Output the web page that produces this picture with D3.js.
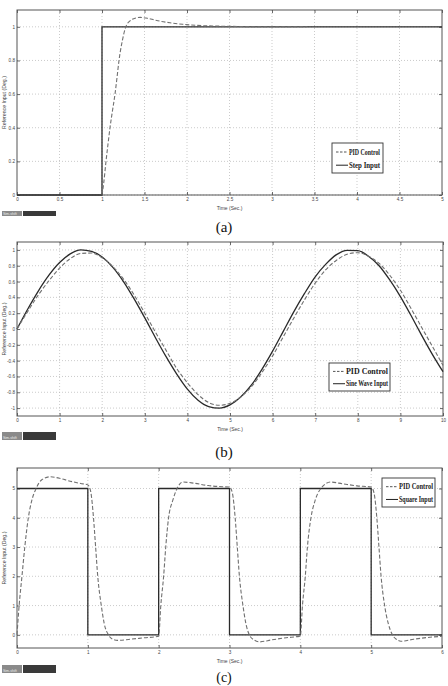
<!DOCTYPE html>
<html><head><meta charset="utf-8">
<script src="https://cdn.jsdelivr.net/npm/d3@7"></script>
<style>html,body{margin:0;padding:0;background:#fff}svg{display:block}</style>
</head><body>
<script>
// ---------- DATA ----------
// Panel (a) step response
const stepXTicks = [0,0.5,1,1.5,2,2.5,3,3.5,4,4.5,5];
const stepYTicks = [0,0.2,0.4,0.6,0.8,1];
const stepInputT = [0,1,5];
const stepInputV = [0,1,1];
const stepPidT = [1.0,1.02,1.047,1.07,1.094,1.123,1.153,1.177,1.2,1.24,1.28,1.33,1.38,1.45,1.52,1.6,1.7,1.8,1.95,2.1,2.3,2.6,3.0,3.41];
const stepPidV = [0,0.07,0.2,0.3,0.4,0.5,0.6,0.7,0.8,0.92,1.0,1.035,1.05,1.056,1.052,1.043,1.032,1.024,1.015,1.009,1.005,1.002,1.0,1.0];
const stepLegend = ["PID Control","Step Input"];

// Panel (b) sine response
const sineXTicks = [0,1,2,3,4,5,6,7,8,9,10];
const sineYTicks = [1,0.8,0.6,0.4,0.2,0,-0.2,-0.4,-0.6,-0.8,-1];
const sineT = [0,0.25,0.5,0.75,1,1.25,1.5,1.75,2,2.25,2.5,2.75,3,3.25,3.5,3.75,4,4.25,4.5,4.75,5,5.25,5.5,5.75,6,6.25,6.5,6.75,7,7.25,7.5,7.75,8,8.25,8.5,8.75,9,9.25,9.5,9.75,10];
const sineInputV = [0,0.25,0.48,0.68,0.84,0.95,1.0,0.98,0.91,0.78,0.6,0.38,0.14,-0.11,-0.35,-0.57,-0.76,-0.9,-0.98,-1.0,-0.96,-0.86,-0.71,-0.51,-0.28,-0.03,0.22,0.45,0.66,0.82,0.94,0.995,0.99,0.92,0.8,0.62,0.41,0.17,-0.08,-0.32,-0.54];
const sinePidV = [0,0.22,0.43,0.61,0.77,0.89,0.955,0.96,0.9,0.79,0.63,0.43,0.2,-0.04,-0.27,-0.5,-0.68,-0.83,-0.93,-0.965,-0.94,-0.86,-0.73,-0.55,-0.34,-0.1,0.14,0.37,0.58,0.75,0.87,0.945,0.965,0.92,0.83,0.68,0.49,0.26,0.02,-0.22,-0.46];
const sineLegend = ["PID Control","Sine Wave Input"];

// Panel (c) square response
const sqXTicks = [0,1,2,3,4,5,6];
const sqYTicks = [0,1,2,3,4,5];
const sqInputT = [0,1,2,3,4,5,6];
const sqInputV = [5,0,5,0,5,0,0];
const sqPidT = [0,0.03,0.07,0.11,0.16,0.21,0.27,0.35,0.47,0.6,0.75,0.9,1.0,
  1.04,1.08,1.11,1.14,1.19,1.23,1.29,1.35,1.42,1.6,1.8,2.0,
  2.03,2.07,2.1,2.14,2.2,2.26,2.34,2.5,2.7,2.9,3.0,
  3.04,3.08,3.11,3.14,3.19,3.23,3.28,3.35,3.42,3.6,3.8,4.0,
  4.03,4.07,4.1,4.15,4.21,4.29,4.43,4.6,4.8,5.0,
  5.04,5.08,5.11,5.14,5.19,5.24,5.3,5.36,5.42,5.6,5.8,6.0];
const sqPidV = [0,1,2,3,4,4.6,5.0,5.3,5.4,5.35,5.25,5.17,5.12,
  4.9,4.0,3.0,2.0,1.0,0.4,0,-0.15,-0.19,-0.15,-0.1,-0.05,
  1.0,2.0,3.0,4.0,4.6,5.0,5.22,5.18,5.1,5.06,5.05,
  4.85,4.0,3.0,2.0,1.0,0.4,0,-0.18,-0.24,-0.17,-0.1,-0.04,
  1.0,2.0,3.0,4.0,4.6,5.0,5.22,5.16,5.09,5.05,
  4.85,4.0,3.0,2.0,1.0,0.4,0,-0.16,-0.22,-0.15,-0.09,-0.05];
const sqLegend = ["PID Control","Square Input"];

const xTitle = "Time (Sec.)";
const yTitle = "Reference Input (Deg.)";
const captions = ["(a)","(b)","(c)"];

// ---------- DRAW ----------
const W = 448, H = 686;
const svg = d3.select("body").append("svg").attr("width", W).attr("height", H);
svg.append("rect").attr("width", W).attr("height", H).attr("fill", "#fff");

const fmt = v => (Math.round(v*10)/10).toString();
const SANS = "Liberation Sans, Arial, sans-serif";

function drawPanel(p) {
  const x = d3.scaleLinear().domain(p.xDom).range([p.left, p.right]);
  const y = d3.scaleLinear().domain(p.yDom).range([p.bottom, p.top]);
  const g = svg.append("g");

  // grid
  g.selectAll(".gx").data(p.xTicks.slice(1, -1)).enter().append("line")
    .attr("x1", d => x(d)).attr("x2", d => x(d)).attr("y1", p.top).attr("y2", p.bottom)
    .attr("stroke", "#b5b5b5").attr("stroke-width", 0.7).attr("stroke-dasharray", "1,2");
  g.selectAll(".gy").data(p.yTicks).enter().append("line")
    .attr("x1", p.left).attr("x2", p.right).attr("y1", d => y(d)).attr("y2", d => y(d))
    .attr("stroke", "#b5b5b5").attr("stroke-width", 0.7).attr("stroke-dasharray", "1,2");

  // axes via d3 axes (ticks inward)
  const ax = d3.axisBottom(x).tickValues(p.xTicks).tickSize(-3).tickPadding(3).tickFormat(fmt);
  const axG = g.append("g").attr("transform", `translate(0,${p.bottom})`).call(ax);
  const axT = d3.axisTop(x).tickValues(p.xTicks).tickSize(-3).tickFormat("");
  const axTG = g.append("g").attr("transform", `translate(0,${p.top})`).call(axT);
  const ay = d3.axisLeft(y).tickValues(p.yTicks).tickSize(-3).tickPadding(2).tickFormat(fmt);
  const ayG = g.append("g").attr("transform", `translate(${p.left},0)`).call(ay);
  const ayR = d3.axisRight(y).tickValues(p.yTicks).tickSize(-3).tickFormat("");
  const ayRG = g.append("g").attr("transform", `translate(${p.right},0)`).call(ayR);
  [axG, axTG, ayG, ayRG].forEach(a => {
    a.select(".domain").remove();
    a.selectAll(".tick line").attr("stroke", "#444").attr("stroke-width", 0.8);
    a.selectAll("text").attr("font-family", SANS).attr("font-size", 4.6).attr("fill", "#444");
  });

  // frame
  g.append("rect").attr("x", p.left).attr("y", p.top)
    .attr("width", p.right - p.left).attr("height", p.bottom - p.top)
    .attr("fill", "none").attr("stroke", "#555").attr("stroke-width", 1);

  // input (solid)
  const inLine = d3.line().x(d => x(d[0])).y(d => y(d[1])).curve(p.inCurve);
  g.append("path").datum(p.inT.map((t, i) => [t, p.inV[i]]))
    .attr("d", inLine).attr("fill", "none").attr("stroke", "#2a2a2a").attr("stroke-width", 1.3);

  // PID (dashed)
  const pidLine = d3.line().x(d => x(d[0])).y(d => y(d[1])).curve(d3.curveMonotoneX);
  g.append("path").datum(p.pidT.map((t, i) => [t, p.pidV[i]]))
    .attr("d", pidLine).attr("fill", "none").attr("stroke", "#707070")
    .attr("stroke-width", 1.1).attr("stroke-dasharray", "4,2");

  // titles
  g.append("text").attr("x", (p.left + p.right) / 2).attr("y", p.bottom + 15)
    .attr("text-anchor", "middle").attr("font-family", SANS)
    .attr("font-size", 5).attr("fill", "#444").text(xTitle);
  g.append("text").attr("transform", `translate(6,${(p.top + p.bottom) / 2}) rotate(-90)`)
    .attr("text-anchor", "middle").attr("font-family", SANS)
    .attr("font-size", 5.2).attr("fill", "#444").text(yTitle);

  // legend
  const L = p.legend;
  g.append("rect").attr("x", L.x).attr("y", L.y).attr("width", L.w).attr("height", L.h)
    .attr("fill", "#fff").attr("stroke", "#333").attr("stroke-width", 0.9);
  p.legendLabels.forEach((lab, i) => {
    const yy = L.y + L.h * (i === 0 ? 0.3 : 0.74);
    g.append("line").attr("x1", L.x + 4).attr("x2", L.x + 16).attr("y1", yy).attr("y2", yy)
      .attr("stroke", i === 0 ? "#555" : "#222").attr("stroke-width", 1)
      .attr("stroke-dasharray", i === 0 ? "2.5,1.5" : null);
    g.append("text").attr("x", L.x + 17).attr("y", yy + 2.5)
      .attr("font-family", "Liberation Serif, Times New Roman, serif")
      .attr("font-size", 7.5).attr("font-weight", "bold").attr("fill", "#222")
      .attr("textLength", L.tl).attr("lengthAdjust", "spacingAndGlyphs").text(lab);
  });

  // sim bar
  g.append("rect").attr("x", 2).attr("y", p.barY).attr("width", 20).attr("height", p.barH).attr("fill", "#8a8a8a");
  g.append("rect").attr("x", 23).attr("y", p.barY).attr("width", 33).attr("height", p.barH).attr("fill", "#3a3a3a");
  g.append("text").attr("x", 3).attr("y", p.barY + p.barH - 1.5).attr("font-family", SANS)
    .attr("font-size", 3.5).attr("fill", "#eee").text("Sim-shift");

  // caption
  g.append("text").attr("x", 224).attr("y", p.capY).attr("text-anchor", "middle")
    .attr("font-family", "Liberation Serif, Times New Roman, serif").attr("font-size", p.capSize)
    .attr("fill", "#111").text(p.caption);
}

drawPanel({
  xDom: [0, 5], yDom: [0, 1.1], left: 17, right: 442, top: 10, bottom: 195,
  xTicks: stepXTicks, yTicks: stepYTicks,
  inT: stepInputT, inV: stepInputV, inCurve: d3.curveStepAfter,
  pidT: stepPidT, pidV: stepPidV,
  legend: { x: 332, y: 143, w: 51, h: 30, tl: 31 }, legendLabels: stepLegend,
  barY: 211, barH: 5, capY: 232, capSize: 15, caption: captions[0]
});
drawPanel({
  xDom: [0, 10], yDom: [-1.1, 1.1], left: 17, right: 443, top: 242, bottom: 416,
  xTicks: sineXTicks, yTicks: sineYTicks,
  inT: sineT, inV: sineInputV, inCurve: d3.curveMonotoneX,
  pidT: sineT, pidV: sinePidV,
  legend: { x: 329, y: 363, w: 61, h: 28, tl: 42 }, legendLabels: sineLegend,
  barY: 432, barH: 8, capY: 457, capSize: 15, caption: captions[1]
});
drawPanel({
  xDom: [0, 6], yDom: [-0.45, 5.7], left: 17, right: 442, top: 468, bottom: 648,
  xTicks: sqXTicks, yTicks: sqYTicks,
  inT: sqInputT, inV: sqInputV, inCurve: d3.curveStepAfter,
  pidT: sqPidT, pidV: sqPidV,
  legend: { x: 382, y: 478, w: 53, h: 29, tl: 34 }, legendLabels: sqLegend,
  barY: 665, barH: 8, capY: 682, capSize: 14, caption: captions[2]
});
</script>
</body></html>
